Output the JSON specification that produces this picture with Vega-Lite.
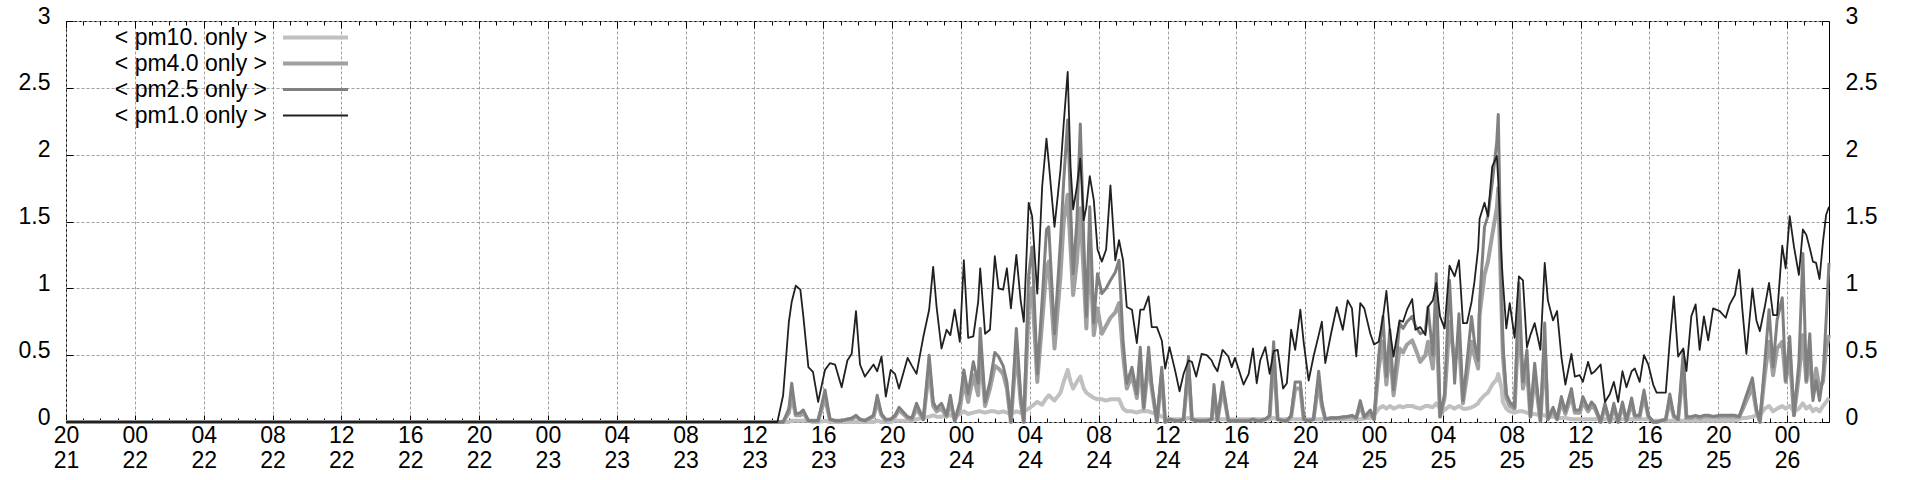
{
"$schema":"https://vega.github.io/schema/vega-lite/v6.json",
"width":1763,"height":401,
"autosize":"none",
"padding":{"left":66,"top":21,"right":91,"bottom":58},
"background":"#ffffff",
"config":{
 "view":{"stroke":"#000000","strokeWidth":1},
 "font":"Liberation Sans",
 "axis":{"labelFont":"Liberation Sans","labelFontSize":23,"labelColor":"#000000","domain":false,"tickColor":"#000000","tickWidth":1,"gridColor":"#a0a0a0","gridDash":[3,2],"gridOpacity":1,"gridWidth":1,"labelFlush":false,"labelOverlap":false}
},
"data":{"values":[
{"t":"2020-01-21T20:00:00Z","pm1":0,"pm25":0,"pm4":0,"pm10":0},
{"t":"2020-01-23T13:20:00Z","pm1":0,"pm25":0,"pm4":0,"pm10":0},
{"t":"2020-01-23T13:40:00Z","pm1":0.2,"pm25":0,"pm4":0,"pm10":0},
{"t":"2020-01-23T14:00:00Z","pm1":0.75,"pm25":0.1,"pm4":0.07,"pm10":0},
{"t":"2020-01-23T14:10:00Z","pm1":0.9,"pm25":0.29,"pm4":0.2,"pm10":0.01},
{"t":"2020-01-23T14:24:00Z","pm1":1.02,"pm25":0.06,"pm4":0.05,"pm10":0.01},
{"t":"2020-01-23T14:40:00Z","pm1":0.99,"pm25":0.07,"pm4":0.05,"pm10":0.01},
{"t":"2020-01-23T14:50:00Z","pm1":0.8,"pm25":0.09,"pm4":0.07,"pm10":0.01},
{"t":"2020-01-23T15:08:00Z","pm1":0.41,"pm25":0.01,"pm4":0.01,"pm10":0.01},
{"t":"2020-01-23T15:24:00Z","pm1":0.375,"pm25":0.01,"pm4":0.01,"pm10":0},
{"t":"2020-01-23T15:42:00Z","pm1":0.15,"pm25":0.01,"pm4":0.01,"pm10":0},
{"t":"2020-01-23T16:06:00Z","pm1":0.39,"pm25":0.24,"pm4":0.18,"pm10":0.01},
{"t":"2020-01-23T16:23:00Z","pm1":0.44,"pm25":0.02,"pm4":0.02,"pm10":0},
{"t":"2020-01-23T16:41:00Z","pm1":0.43,"pm25":0.01,"pm4":0.01,"pm10":0},
{"t":"2020-01-23T17:04:00Z","pm1":0.26,"pm25":0.01,"pm4":0.01,"pm10":0},
{"t":"2020-01-23T17:24:00Z","pm1":0.46,"pm25":0.02,"pm4":0.02,"pm10":0},
{"t":"2020-01-23T17:39:00Z","pm1":0.51,"pm25":0.03,"pm4":0.02,"pm10":0},
{"t":"2020-01-23T17:54:00Z","pm1":0.83,"pm25":0.05,"pm4":0.04,"pm10":0},
{"t":"2020-01-23T18:08:00Z","pm1":0.43,"pm25":0.02,"pm4":0.02,"pm10":0},
{"t":"2020-01-23T18:25:00Z","pm1":0.34,"pm25":0.01,"pm4":0.01,"pm10":0},
{"t":"2020-01-23T18:55:00Z","pm1":0.43,"pm25":0.05,"pm4":0.04,"pm10":0},
{"t":"2020-01-23T19:08:00Z","pm1":0.38,"pm25":0.2,"pm4":0.15,"pm10":0.01},
{"t":"2020-01-23T19:23:00Z","pm1":0.49,"pm25":0.06,"pm4":0.05,"pm10":0},
{"t":"2020-01-23T19:38:00Z","pm1":0.19,"pm25":0.02,"pm4":0.01,"pm10":0},
{"t":"2020-01-23T19:55:00Z","pm1":0.39,"pm25":0.02,"pm4":0.02,"pm10":0},
{"t":"2020-01-23T20:10:00Z","pm1":0.36,"pm25":0.05,"pm4":0.04,"pm10":0.01},
{"t":"2020-01-23T20:24:00Z","pm1":0.25,"pm25":0.11,"pm4":0.09,"pm10":0.01},
{"t":"2020-01-23T20:54:00Z","pm1":0.48,"pm25":0.04,"pm4":0.03,"pm10":0.01},
{"t":"2020-01-23T21:09:00Z","pm1":0.42,"pm25":0.03,"pm4":0.02,"pm10":0.01},
{"t":"2020-01-23T21:25:00Z","pm1":0.36,"pm25":0.14,"pm4":0.1,"pm10":0.02},
{"t":"2020-01-23T21:49:00Z","pm1":0.64,"pm25":0.02,"pm4":0.02,"pm10":0.03},
{"t":"2020-01-23T22:09:00Z","pm1":0.84,"pm25":0.5,"pm4":0.4,"pm10":0.04},
{"t":"2020-01-23T22:23:00Z","pm1":1.16,"pm25":0.15,"pm4":0.12,"pm10":0.05},
{"t":"2020-01-23T22:35:00Z","pm1":0.86,"pm25":0.1,"pm4":0.08,"pm10":0.04},
{"t":"2020-01-23T22:52:00Z","pm1":0.55,"pm25":0.14,"pm4":0.1,"pm10":0.04},
{"t":"2020-01-23T23:10:00Z","pm1":0.69,"pm25":0.05,"pm4":0.04,"pm10":0.05},
{"t":"2020-01-23T23:23:00Z","pm1":0.65,"pm25":0.2,"pm4":0.15,"pm10":0.05},
{"t":"2020-01-23T23:38:00Z","pm1":0.84,"pm25":0.01,"pm4":0.01,"pm10":0.04},
{"t":"2020-01-23T23:56:00Z","pm1":0.6,"pm25":0.15,"pm4":0.1,"pm10":0.06},
{"t":"2020-01-24T00:10:00Z","pm1":1.21,"pm25":0.39,"pm4":0.3,"pm10":0.08},
{"t":"2020-01-24T00:25:00Z","pm1":0.63,"pm25":0.21,"pm4":0.15,"pm10":0.06},
{"t":"2020-01-24T00:43:00Z","pm1":0.64,"pm25":0.45,"pm4":0.35,"pm10":0.07},
{"t":"2020-01-24T01:00:00Z","pm1":0.9,"pm25":0.29,"pm4":0.2,"pm10":0.08},
{"t":"2020-01-24T01:07:00Z","pm1":1.15,"pm25":0.7,"pm4":0.55,"pm10":0.08},
{"t":"2020-01-24T01:24:00Z","pm1":0.66,"pm25":0.15,"pm4":0.12,"pm10":0.07},
{"t":"2020-01-24T01:41:00Z","pm1":0.69,"pm25":0.3,"pm4":0.25,"pm10":0.08},
{"t":"2020-01-24T01:58:00Z","pm1":1.24,"pm25":0.52,"pm4":0.42,"pm10":0.08},
{"t":"2020-01-24T02:11:00Z","pm1":1.0,"pm25":0.49,"pm4":0.4,"pm10":0.07},
{"t":"2020-01-24T02:27:00Z","pm1":0.99,"pm25":0.42,"pm4":0.36,"pm10":0.08},
{"t":"2020-01-24T02:40:00Z","pm1":1.15,"pm25":0.3,"pm4":0.25,"pm10":0.07},
{"t":"2020-01-24T02:54:00Z","pm1":0.85,"pm25":0,"pm4":0,"pm10":0.06},
{"t":"2020-01-24T03:13:00Z","pm1":1.25,"pm25":0.7,"pm4":0.55,"pm10":0.08},
{"t":"2020-01-24T03:28:00Z","pm1":0.91,"pm25":0.2,"pm4":0.15,"pm10":0.07},
{"t":"2020-01-24T03:39:00Z","pm1":0.75,"pm25":0,"pm4":0,"pm10":0.08},
{"t":"2020-01-24T03:56:00Z","pm1":1.64,"pm25":1.1,"pm4":0.85,"pm10":0.1},
{"t":"2020-01-24T04:08:00Z","pm1":1.54,"pm25":1.31,"pm4":1.0,"pm10":0.12},
{"t":"2020-01-24T04:26:00Z","pm1":0.96,"pm25":0.36,"pm4":0.3,"pm10":0.15},
{"t":"2020-01-24T04:43:00Z","pm1":1.76,"pm25":0.91,"pm4":0.75,"pm10":0.13},
{"t":"2020-01-24T04:58:00Z","pm1":2.12,"pm25":1.44,"pm4":1.15,"pm10":0.18},
{"t":"2020-01-24T05:06:00Z","pm1":1.94,"pm25":1.46,"pm4":1.2,"pm10":0.2},
{"t":"2020-01-24T05:26:00Z","pm1":1.46,"pm25":0.66,"pm4":0.55,"pm10":0.16},
{"t":"2020-01-24T05:47:00Z","pm1":1.89,"pm25":1.36,"pm4":1.1,"pm10":0.22},
{"t":"2020-01-24T05:58:00Z","pm1":2.23,"pm25":1.8,"pm4":1.5,"pm10":0.3},
{"t":"2020-01-24T06:12:00Z","pm1":2.62,"pm25":2.26,"pm4":1.7,"pm10":0.39},
{"t":"2020-01-24T06:22:00Z","pm1":1.91,"pm25":1.61,"pm4":1.3,"pm10":0.3},
{"t":"2020-01-24T06:31:00Z","pm1":1.59,"pm25":1.11,"pm4":0.95,"pm10":0.25},
{"t":"2020-01-24T06:44:00Z","pm1":1.76,"pm25":1.5,"pm4":1.2,"pm10":0.3},
{"t":"2020-01-24T06:56:00Z","pm1":1.97,"pm25":2.23,"pm4":1.6,"pm10":0.34},
{"t":"2020-01-24T07:08:00Z","pm1":1.51,"pm25":1.36,"pm4":1.1,"pm10":0.25},
{"t":"2020-01-24T07:17:00Z","pm1":1.61,"pm25":0.79,"pm4":0.7,"pm10":0.22},
{"t":"2020-01-24T07:29:00Z","pm1":1.84,"pm25":1.61,"pm4":1.3,"pm10":0.2},
{"t":"2020-01-24T07:43:00Z","pm1":1.66,"pm25":0.74,"pm4":0.65,"pm10":0.18},
{"t":"2020-01-24T07:56:00Z","pm1":1.29,"pm25":1.11,"pm4":0.85,"pm10":0.17},
{"t":"2020-01-24T08:11:00Z","pm1":1.2,"pm25":0.96,"pm4":0.66,"pm10":0.17},
{"t":"2020-01-24T08:26:00Z","pm1":1.29,"pm25":1.0,"pm4":0.72,"pm10":0.16},
{"t":"2020-01-24T08:41:00Z","pm1":1.77,"pm25":1.06,"pm4":0.78,"pm10":0.17},
{"t":"2020-01-24T08:58:00Z","pm1":1.21,"pm25":1.12,"pm4":0.82,"pm10":0.17},
{"t":"2020-01-24T09:11:00Z","pm1":1.36,"pm25":1.21,"pm4":0.89,"pm10":0.17},
{"t":"2020-01-24T09:25:00Z","pm1":1.21,"pm25":0.61,"pm4":0.5,"pm10":0.1},
{"t":"2020-01-24T09:38:00Z","pm1":0.86,"pm25":0.29,"pm4":0.25,"pm10":0.08},
{"t":"2020-01-24T09:56:00Z","pm1":0.84,"pm25":0.41,"pm4":0.35,"pm10":0.08},
{"t":"2020-01-24T10:13:00Z","pm1":0.59,"pm25":0.21,"pm4":0.18,"pm10":0.07},
{"t":"2020-01-24T10:25:00Z","pm1":0.84,"pm25":0.56,"pm4":0.45,"pm10":0.08},
{"t":"2020-01-24T10:37:00Z","pm1":0.84,"pm25":0.11,"pm4":0.1,"pm10":0.08},
{"t":"2020-01-24T10:54:00Z","pm1":0.94,"pm25":0.56,"pm4":0.45,"pm10":0.08},
{"t":"2020-01-24T11:05:00Z","pm1":0.71,"pm25":0.29,"pm4":0.25,"pm10":0.07},
{"t":"2020-01-24T11:23:00Z","pm1":0.71,"pm25":0,"pm4":0,"pm10":0.06},
{"t":"2020-01-24T11:40:00Z","pm1":0.61,"pm25":0.41,"pm4":0.35,"pm10":0.04},
{"t":"2020-01-24T11:52:00Z","pm1":0.4,"pm25":0,"pm4":0,"pm10":0.03},
{"t":"2020-01-24T12:07:00Z","pm1":0.56,"pm25":0.02,"pm4":0.02,"pm10":0.02},
{"t":"2020-01-24T12:26:00Z","pm1":0.39,"pm25":0.01,"pm4":0.01,"pm10":0.02},
{"t":"2020-01-24T12:42:00Z","pm1":0.23,"pm25":0.01,"pm4":0.01,"pm10":0.02},
{"t":"2020-01-24T12:56:00Z","pm1":0.36,"pm25":0.02,"pm4":0.02,"pm10":0.02},
{"t":"2020-01-24T13:13:00Z","pm1":0.46,"pm25":0.49,"pm4":0.4,"pm10":0.03},
{"t":"2020-01-24T13:25:00Z","pm1":0.45,"pm25":0.02,"pm4":0.02,"pm10":0.02},
{"t":"2020-01-24T13:40:00Z","pm1":0.34,"pm25":0.01,"pm4":0.01,"pm10":0.02},
{"t":"2020-01-24T13:59:00Z","pm1":0.51,"pm25":0.01,"pm4":0.01,"pm10":0.02},
{"t":"2020-01-24T14:17:00Z","pm1":0.5,"pm25":0.01,"pm4":0.01,"pm10":0.02},
{"t":"2020-01-24T14:34:00Z","pm1":0.46,"pm25":0.02,"pm4":0.02,"pm10":0.02},
{"t":"2020-01-24T14:42:00Z","pm1":0.42,"pm25":0.28,"pm4":0.22,"pm10":0.02},
{"t":"2020-01-24T14:54:00Z","pm1":0.38,"pm25":0.01,"pm4":0.01,"pm10":0.02},
{"t":"2020-01-24T15:12:00Z","pm1":0.54,"pm25":0.3,"pm4":0.25,"pm10":0.02},
{"t":"2020-01-24T15:32:00Z","pm1":0.49,"pm25":0.01,"pm4":0.01,"pm10":0.02},
{"t":"2020-01-24T15:44:00Z","pm1":0.41,"pm25":0.01,"pm4":0.01,"pm10":0.02},
{"t":"2020-01-24T15:55:00Z","pm1":0.48,"pm25":0.01,"pm4":0.01,"pm10":0.02},
{"t":"2020-01-24T16:25:00Z","pm1":0.28,"pm25":0.01,"pm4":0.01,"pm10":0.02},
{"t":"2020-01-24T16:43:00Z","pm1":0.36,"pm25":0.01,"pm4":0.01,"pm10":0.02},
{"t":"2020-01-24T16:58:00Z","pm1":0.55,"pm25":0.02,"pm4":0.02,"pm10":0.02},
{"t":"2020-01-24T17:11:00Z","pm1":0.29,"pm25":0.01,"pm4":0.01,"pm10":0.02},
{"t":"2020-01-24T17:23:00Z","pm1":0.46,"pm25":0.01,"pm4":0.01,"pm10":0.02},
{"t":"2020-01-24T17:41:00Z","pm1":0.56,"pm25":0.02,"pm4":0.02,"pm10":0.02},
{"t":"2020-01-24T17:56:00Z","pm1":0.36,"pm25":0.05,"pm4":0.04,"pm10":0.02},
{"t":"2020-01-24T18:10:00Z","pm1":0.53,"pm25":0.6,"pm4":0.5,"pm10":0.03},
{"t":"2020-01-24T18:24:00Z","pm1":0.54,"pm25":0.02,"pm4":0.02,"pm10":0.02},
{"t":"2020-01-24T18:43:00Z","pm1":0.25,"pm25":0.01,"pm4":0.01,"pm10":0.02},
{"t":"2020-01-24T18:56:00Z","pm1":0.29,"pm25":0.01,"pm4":0.01,"pm10":0.02},
{"t":"2020-01-24T19:11:00Z","pm1":0.69,"pm25":0.05,"pm4":0.04,"pm10":0.02},
{"t":"2020-01-24T19:25:00Z","pm1":0.54,"pm25":0.3,"pm4":0.25,"pm10":0.02},
{"t":"2020-01-24T19:43:00Z","pm1":0.84,"pm25":0.3,"pm4":0.25,"pm10":0.02},
{"t":"2020-01-24T19:55:00Z","pm1":0.59,"pm25":0.02,"pm4":0.02,"pm10":0.02},
{"t":"2020-01-24T20:12:00Z","pm1":0.31,"pm25":0.01,"pm4":0.01,"pm10":0.02},
{"t":"2020-01-24T20:29:00Z","pm1":0.49,"pm25":0.02,"pm4":0.02,"pm10":0.02},
{"t":"2020-01-24T20:47:00Z","pm1":0.65,"pm25":0.38,"pm4":0.3,"pm10":0.02},
{"t":"2020-01-24T20:58:00Z","pm1":0.75,"pm25":0.15,"pm4":0.12,"pm10":0.02},
{"t":"2020-01-24T21:10:00Z","pm1":0.44,"pm25":0.02,"pm4":0.02,"pm10":0.02},
{"t":"2020-01-24T21:30:00Z","pm1":0.66,"pm25":0.03,"pm4":0.03,"pm10":0.02},
{"t":"2020-01-24T21:50:00Z","pm1":0.86,"pm25":0.03,"pm4":0.03,"pm10":0.02},
{"t":"2020-01-24T22:11:00Z","pm1":0.69,"pm25":0.04,"pm4":0.03,"pm10":0.02},
{"t":"2020-01-24T22:28:00Z","pm1":0.91,"pm25":0.04,"pm4":0.04,"pm10":0.02},
{"t":"2020-01-24T22:43:00Z","pm1":0.85,"pm25":0.05,"pm4":0.04,"pm10":0.02},
{"t":"2020-01-24T22:58:00Z","pm1":0.49,"pm25":0.03,"pm4":0.03,"pm10":0.02},
{"t":"2020-01-24T23:12:00Z","pm1":0.89,"pm25":0.16,"pm4":0.13,"pm10":0.02},
{"t":"2020-01-24T23:26:00Z","pm1":0.85,"pm25":0.04,"pm4":0.03,"pm10":0.03},
{"t":"2020-01-24T23:47:00Z","pm1":0.66,"pm25":0.09,"pm4":0.07,"pm10":0.03},
{"t":"2020-01-25T00:00:00Z","pm1":0.58,"pm25":0.02,"pm4":0.02,"pm10":0.05},
{"t":"2020-01-25T00:16:00Z","pm1":0.6,"pm25":0.49,"pm4":0.4,"pm10":0.1},
{"t":"2020-01-25T00:31:00Z","pm1":0.78,"pm25":0.79,"pm4":0.6,"pm10":0.12},
{"t":"2020-01-25T00:43:00Z","pm1":0.98,"pm25":0.34,"pm4":0.28,"pm10":0.1},
{"t":"2020-01-25T00:55:00Z","pm1":0.69,"pm25":0.69,"pm4":0.55,"pm10":0.12},
{"t":"2020-01-25T01:08:00Z","pm1":0.49,"pm25":0.24,"pm4":0.2,"pm10":0.1},
{"t":"2020-01-25T01:29:00Z","pm1":0.76,"pm25":0.74,"pm4":0.55,"pm10":0.12},
{"t":"2020-01-25T01:41:00Z","pm1":0.75,"pm25":0.7,"pm4":0.52,"pm10":0.11},
{"t":"2020-01-25T01:55:00Z","pm1":0.84,"pm25":0.75,"pm4":0.58,"pm10":0.12},
{"t":"2020-01-25T02:13:00Z","pm1":0.92,"pm25":0.79,"pm4":0.61,"pm10":0.12},
{"t":"2020-01-25T02:24:00Z","pm1":0.69,"pm25":0.72,"pm4":0.55,"pm10":0.11},
{"t":"2020-01-25T02:41:00Z","pm1":0.71,"pm25":0.66,"pm4":0.45,"pm10":0.1},
{"t":"2020-01-25T02:59:00Z","pm1":0.65,"pm25":0.68,"pm4":0.5,"pm10":0.12},
{"t":"2020-01-25T03:08:00Z","pm1":0.86,"pm25":0.86,"pm4":0.6,"pm10":0.12},
{"t":"2020-01-25T03:25:00Z","pm1":0.91,"pm25":0.5,"pm4":0.4,"pm10":0.11},
{"t":"2020-01-25T03:37:00Z","pm1":1.04,"pm25":1.11,"pm4":0.8,"pm10":0.14},
{"t":"2020-01-25T03:50:00Z","pm1":0.79,"pm25":0.04,"pm4":0.04,"pm10":0.1},
{"t":"2020-01-25T04:06:00Z","pm1":0.7,"pm25":0.21,"pm4":0.18,"pm10":0.09},
{"t":"2020-01-25T04:23:00Z","pm1":1.17,"pm25":1.06,"pm4":0.75,"pm10":0.12},
{"t":"2020-01-25T04:41:00Z","pm1":1.09,"pm25":0.29,"pm4":0.45,"pm10":0.1},
{"t":"2020-01-25T04:56:00Z","pm1":1.21,"pm25":0.81,"pm4":0.6,"pm10":0.12},
{"t":"2020-01-25T05:10:00Z","pm1":0.74,"pm25":0.16,"pm4":0.14,"pm10":0.1},
{"t":"2020-01-25T05:24:00Z","pm1":0.74,"pm25":0.45,"pm4":0.35,"pm10":0.1},
{"t":"2020-01-25T05:40:00Z","pm1":0.9,"pm25":0.79,"pm4":0.6,"pm10":0.11},
{"t":"2020-01-25T05:50:00Z","pm1":1.05,"pm25":0.6,"pm4":0.5,"pm10":0.12},
{"t":"2020-01-25T06:03:00Z","pm1":1.3,"pm25":0.46,"pm4":0.4,"pm10":0.14},
{"t":"2020-01-25T06:08:00Z","pm1":1.52,"pm25":0.9,"pm4":0.8,"pm10":0.16},
{"t":"2020-01-25T06:25:00Z","pm1":1.64,"pm25":1.46,"pm4":1.1,"pm10":0.2},
{"t":"2020-01-25T06:37:00Z","pm1":1.54,"pm25":1.54,"pm4":1.2,"pm10":0.22},
{"t":"2020-01-25T06:52:00Z","pm1":1.91,"pm25":1.79,"pm4":1.4,"pm10":0.28},
{"t":"2020-01-25T07:08:00Z","pm1":1.99,"pm25":2.1,"pm4":1.6,"pm10":0.32},
{"t":"2020-01-25T07:13:00Z","pm1":1.8,"pm25":2.3,"pm4":1.75,"pm10":0.36},
{"t":"2020-01-25T07:25:00Z","pm1":1.2,"pm25":0.91,"pm4":0.8,"pm10":0.25},
{"t":"2020-01-25T07:29:00Z","pm1":1.06,"pm25":0.6,"pm4":0.5,"pm10":0.15},
{"t":"2020-01-25T07:41:00Z","pm1":0.7,"pm25":0.21,"pm4":0.18,"pm10":0.1},
{"t":"2020-01-25T07:53:00Z","pm1":0.89,"pm25":0.15,"pm4":0.12,"pm10":0.08},
{"t":"2020-01-25T08:10:00Z","pm1":0.63,"pm25":0.11,"pm4":0.1,"pm10":0.07},
{"t":"2020-01-25T08:25:00Z","pm1":1.09,"pm25":1.04,"pm4":0.8,"pm10":0.08},
{"t":"2020-01-25T08:39:00Z","pm1":1.06,"pm25":0.3,"pm4":0.25,"pm10":0.08},
{"t":"2020-01-25T08:53:00Z","pm1":0.56,"pm25":0.54,"pm4":0.4,"pm10":0.07},
{"t":"2020-01-25T09:05:00Z","pm1":0.65,"pm25":0.04,"pm4":0.04,"pm10":0.06},
{"t":"2020-01-25T09:20:00Z","pm1":0.74,"pm25":0.44,"pm4":0.35,"pm10":0.06},
{"t":"2020-01-25T09:40:00Z","pm1":0.54,"pm25":0.01,"pm4":0.01,"pm10":0.05},
{"t":"2020-01-25T09:55:00Z","pm1":1.19,"pm25":0.74,"pm4":0.55,"pm10":0.05},
{"t":"2020-01-25T10:06:00Z","pm1":0.91,"pm25":0.02,"pm4":0.02,"pm10":0.04},
{"t":"2020-01-25T10:24:00Z","pm1":0.76,"pm25":0.11,"pm4":0.09,"pm10":0.04},
{"t":"2020-01-25T10:38:00Z","pm1":0.83,"pm25":0.02,"pm4":0.02,"pm10":0.03},
{"t":"2020-01-25T10:53:00Z","pm1":0.49,"pm25":0.19,"pm4":0.15,"pm10":0.03},
{"t":"2020-01-25T11:07:00Z","pm1":0.28,"pm25":0.08,"pm4":0.06,"pm10":0.03},
{"t":"2020-01-25T11:28:00Z","pm1":0.51,"pm25":0.25,"pm4":0.2,"pm10":0.02},
{"t":"2020-01-25T11:40:00Z","pm1":0.34,"pm25":0.09,"pm4":0.07,"pm10":0.02},
{"t":"2020-01-25T11:57:00Z","pm1":0.35,"pm25":0.09,"pm4":0.07,"pm10":0.02},
{"t":"2020-01-25T12:08:00Z","pm1":0.3,"pm25":0.19,"pm4":0.15,"pm10":0.02},
{"t":"2020-01-25T12:26:00Z","pm1":0.45,"pm25":0.1,"pm4":0.08,"pm10":0.02},
{"t":"2020-01-25T12:38:00Z","pm1":0.36,"pm25":0.15,"pm4":0.12,"pm10":0.02},
{"t":"2020-01-25T12:50:00Z","pm1":0.38,"pm25":0.12,"pm4":0.1,"pm10":0.02},
{"t":"2020-01-25T13:10:00Z","pm1":0.43,"pm25":0,"pm4":0,"pm10":0.02},
{"t":"2020-01-25T13:25:00Z","pm1":0.15,"pm25":0.14,"pm4":0.11,"pm10":0.02},
{"t":"2020-01-25T13:42:00Z","pm1":0.21,"pm25":0,"pm4":0,"pm10":0.02},
{"t":"2020-01-25T13:56:00Z","pm1":0.3,"pm25":0.14,"pm4":0.11,"pm10":0.02},
{"t":"2020-01-25T14:11:00Z","pm1":0.15,"pm25":0,"pm4":0,"pm10":0.02},
{"t":"2020-01-25T14:26:00Z","pm1":0.38,"pm25":0.15,"pm4":0.12,"pm10":0.02},
{"t":"2020-01-25T14:40:00Z","pm1":0.26,"pm25":0.01,"pm4":0.01,"pm10":0.02},
{"t":"2020-01-25T14:58:00Z","pm1":0.38,"pm25":0.18,"pm4":0.14,"pm10":0.02},
{"t":"2020-01-25T15:09:00Z","pm1":0.4,"pm25":0.05,"pm4":0.04,"pm10":0.02},
{"t":"2020-01-25T15:26:00Z","pm1":0.3,"pm25":0.05,"pm4":0.04,"pm10":0.02},
{"t":"2020-01-25T15:41:00Z","pm1":0.5,"pm25":0.24,"pm4":0.2,"pm10":0.02},
{"t":"2020-01-25T15:56:00Z","pm1":0.43,"pm25":0.05,"pm4":0.04,"pm10":0.02},
{"t":"2020-01-25T16:13:00Z","pm1":0.28,"pm25":0,"pm4":0,"pm10":0.01},
{"t":"2020-01-25T16:25:00Z","pm1":0.22,"pm25":0,"pm4":0,"pm10":0.01},
{"t":"2020-01-25T16:57:00Z","pm1":0.22,"pm25":0.02,"pm4":0.02,"pm10":0.01},
{"t":"2020-01-25T17:11:00Z","pm1":0.61,"pm25":0.21,"pm4":0.16,"pm10":0.01},
{"t":"2020-01-25T17:25:00Z","pm1":0.94,"pm25":0.05,"pm4":0.04,"pm10":0.01},
{"t":"2020-01-25T17:40:00Z","pm1":0.49,"pm25":0.02,"pm4":0.02,"pm10":0.01},
{"t":"2020-01-25T17:58:00Z","pm1":0.55,"pm25":0.53,"pm4":0.4,"pm10":0.01},
{"t":"2020-01-25T18:09:00Z","pm1":0.38,"pm25":0.04,"pm4":0.03,"pm10":0.01},
{"t":"2020-01-25T18:26:00Z","pm1":0.79,"pm25":0.04,"pm4":0.03,"pm10":0.01},
{"t":"2020-01-25T18:41:00Z","pm1":0.88,"pm25":0.05,"pm4":0.04,"pm10":0.01},
{"t":"2020-01-25T18:55:00Z","pm1":0.54,"pm25":0.04,"pm4":0.03,"pm10":0.01},
{"t":"2020-01-25T19:10:00Z","pm1":0.79,"pm25":0.05,"pm4":0.04,"pm10":0.01},
{"t":"2020-01-25T19:25:00Z","pm1":0.61,"pm25":0.05,"pm4":0.04,"pm10":0.01},
{"t":"2020-01-25T19:42:00Z","pm1":0.85,"pm25":0.04,"pm4":0.04,"pm10":0.01},
{"t":"2020-01-25T20:05:00Z","pm1":0.83,"pm25":0.05,"pm4":0.04,"pm10":0.01},
{"t":"2020-01-25T20:26:00Z","pm1":0.78,"pm25":0.05,"pm4":0.04,"pm10":0.01},
{"t":"2020-01-25T20:40:00Z","pm1":0.88,"pm25":0.05,"pm4":0.04,"pm10":0.01},
{"t":"2020-01-25T20:58:00Z","pm1":0.95,"pm25":0.05,"pm4":0.04,"pm10":0.01},
{"t":"2020-01-25T21:13:00Z","pm1":1.14,"pm25":0.04,"pm4":0.04,"pm10":0.02},
{"t":"2020-01-25T21:24:00Z","pm1":0.84,"pm25":0.11,"pm4":0.09,"pm10":0.03},
{"t":"2020-01-25T21:38:00Z","pm1":0.51,"pm25":0.2,"pm4":0.16,"pm10":0.03},
{"t":"2020-01-25T21:59:00Z","pm1":1.0,"pm25":0.33,"pm4":0.26,"pm10":0.04},
{"t":"2020-01-25T22:13:00Z","pm1":0.76,"pm25":0.1,"pm4":0.08,"pm10":0.05},
{"t":"2020-01-25T22:25:00Z","pm1":0.68,"pm25":0,"pm4":0,"pm10":0.05},
{"t":"2020-01-25T22:42:00Z","pm1":0.86,"pm25":0.44,"pm4":0.35,"pm10":0.1},
{"t":"2020-01-25T22:57:00Z","pm1":1.04,"pm25":0.84,"pm4":0.6,"pm10":0.12},
{"t":"2020-01-25T23:11:00Z","pm1":0.8,"pm25":0.41,"pm4":0.35,"pm10":0.08},
{"t":"2020-01-25T23:25:00Z","pm1":0.8,"pm25":0.76,"pm4":0.55,"pm10":0.1},
{"t":"2020-01-25T23:43:00Z","pm1":1.32,"pm25":0.93,"pm4":0.6,"pm10":0.12},
{"t":"2020-01-25T23:55:00Z","pm1":1.15,"pm25":0.31,"pm4":0.3,"pm10":0.1},
{"t":"2020-01-26T00:09:00Z","pm1":1.54,"pm25":0.64,"pm4":0.5,"pm10":0.12},
{"t":"2020-01-26T00:24:00Z","pm1":1.31,"pm25":0.05,"pm4":0.05,"pm10":0.08},
{"t":"2020-01-26T00:41:00Z","pm1":1.1,"pm25":0.44,"pm4":0.35,"pm10":0.1},
{"t":"2020-01-26T00:55:00Z","pm1":1.44,"pm25":1.26,"pm4":0.65,"pm10":0.14},
{"t":"2020-01-26T01:07:00Z","pm1":1.4,"pm25":0.31,"pm4":0.3,"pm10":0.1},
{"t":"2020-01-26T01:19:00Z","pm1":1.3,"pm25":0.66,"pm4":0.5,"pm10":0.12},
{"t":"2020-01-26T01:30:00Z","pm1":1.2,"pm25":0.16,"pm4":0.2,"pm10":0.08},
{"t":"2020-01-26T01:41:00Z","pm1":1.19,"pm25":0.31,"pm4":0.4,"pm10":0.1},
{"t":"2020-01-26T01:53:00Z","pm1":1.07,"pm25":0.16,"pm4":0.25,"pm10":0.08},
{"t":"2020-01-26T02:05:00Z","pm1":1.35,"pm25":0.34,"pm4":0.3,"pm10":0.12},
{"t":"2020-01-26T02:16:00Z","pm1":1.55,"pm25":0.76,"pm4":0.55,"pm10":0.15},
{"t":"2020-01-26T02:26:00Z","pm1":1.61,"pm25":1.19,"pm4":0.65,"pm10":0.18}
]},
"transform":[{"fold":["pm10","pm4","pm25","pm1"],"as":["series","value"]}],
"encoding":{
 "x":{"field":"t","type":"temporal","scale":{"type":"utc","domain":[{"year":2020,"month":1,"date":21,"hours":20,"utc":true},{"year":2020,"month":1,"date":26,"hours":2,"minutes":26,"utc":true}]}},
 "y":{"field":"value","type":"quantitative","scale":{"domain":[0,3],"nice":false}},
 "color":{"field":"series","type":"nominal","scale":{"domain":["pm10","pm4","pm25","pm1"],"range":["#c0c0c0","#a0a0a0","#808080","#202020"]},
  "legend":{"orient":"none","legendX":238,"legendY":5,"title":null,"symbolType":"M-5,0H5","symbolSize":169,"symbolStrokeWidth":3,"labelAlign":"right","labelOffset":-60,"labelFontSize":23,"labelFont":"Liberation Sans","labelColor":"#000000","labelLimit":400,"rowPadding":2,"padding":0,
   "labelExpr":"datum.label == 'pm10' ? '< pm10. only >' : datum.label == 'pm4' ? '< pm4.0 only >' : datum.label == 'pm25' ? '< pm2.5 only >' : '< pm1.0 only >'",
   "encode":{"symbols":{"update":{"strokeWidth":{"signal":"datum.value == 'pm1' ? 2 : datum.value == 'pm25' ? 3 : 4"}}}}}}
},
"layer":[
 {"transform":[{"filter":"datum.series === 'pm10'"}],
  "mark":{"type":"line","strokeWidth":4,"strokeJoin":"round"},
  "encoding":{
   "x":{"field":"t","type":"temporal","axis":{"orient":"bottom","title":null,"grid":true,"ticks":true,"tickSize":-7,"labels":true,
     "values":[{"year":2020,"month":1,"date":21,"hours":20,"utc":true},{"year":2020,"month":1,"date":22,"hours":0,"utc":true},{"year":2020,"month":1,"date":22,"hours":4,"utc":true},{"year":2020,"month":1,"date":22,"hours":8,"utc":true},{"year":2020,"month":1,"date":22,"hours":12,"utc":true},{"year":2020,"month":1,"date":22,"hours":16,"utc":true},{"year":2020,"month":1,"date":22,"hours":20,"utc":true},{"year":2020,"month":1,"date":23,"hours":0,"utc":true},{"year":2020,"month":1,"date":23,"hours":4,"utc":true},{"year":2020,"month":1,"date":23,"hours":8,"utc":true},{"year":2020,"month":1,"date":23,"hours":12,"utc":true},{"year":2020,"month":1,"date":23,"hours":16,"utc":true},{"year":2020,"month":1,"date":23,"hours":20,"utc":true},{"year":2020,"month":1,"date":24,"hours":0,"utc":true},{"year":2020,"month":1,"date":24,"hours":4,"utc":true},{"year":2020,"month":1,"date":24,"hours":8,"utc":true},{"year":2020,"month":1,"date":24,"hours":12,"utc":true},{"year":2020,"month":1,"date":24,"hours":16,"utc":true},{"year":2020,"month":1,"date":24,"hours":20,"utc":true},{"year":2020,"month":1,"date":25,"hours":0,"utc":true},{"year":2020,"month":1,"date":25,"hours":4,"utc":true},{"year":2020,"month":1,"date":25,"hours":8,"utc":true},{"year":2020,"month":1,"date":25,"hours":12,"utc":true},{"year":2020,"month":1,"date":25,"hours":16,"utc":true},{"year":2020,"month":1,"date":25,"hours":20,"utc":true},{"year":2020,"month":1,"date":26,"hours":0,"utc":true}],
     "labelExpr":"[utcFormat(datum.value,'%H'), utcFormat(datum.value,'%d')]","labelAngle":0,"labelAlign":"center","labelBaseline":"top","labelPadding":9,"labelLineHeight":25}},
   "y":{"field":"value","type":"quantitative","axis":{"orient":"left","title":null,"values":[0,0.5,1,1.5,2,2.5,3],"format":"~g","grid":true,"ticks":true,"tickSize":-7,"labelPadding":23,"labelOffset":-5}}
  }},
 {"transform":[{"filter":"datum.series === 'pm4'"}],
  "mark":{"type":"line","strokeWidth":4,"strokeJoin":"round"},
  "encoding":{
   "x":{"field":"t","type":"temporal","axis":{"orient":"top","title":null,"grid":false,"ticks":true,"tickSize":-7,"labels":false,
     "values":[{"year":2020,"month":1,"date":21,"hours":20,"utc":true},{"year":2020,"month":1,"date":22,"hours":0,"utc":true},{"year":2020,"month":1,"date":22,"hours":4,"utc":true},{"year":2020,"month":1,"date":22,"hours":8,"utc":true},{"year":2020,"month":1,"date":22,"hours":12,"utc":true},{"year":2020,"month":1,"date":22,"hours":16,"utc":true},{"year":2020,"month":1,"date":22,"hours":20,"utc":true},{"year":2020,"month":1,"date":23,"hours":0,"utc":true},{"year":2020,"month":1,"date":23,"hours":4,"utc":true},{"year":2020,"month":1,"date":23,"hours":8,"utc":true},{"year":2020,"month":1,"date":23,"hours":12,"utc":true},{"year":2020,"month":1,"date":23,"hours":16,"utc":true},{"year":2020,"month":1,"date":23,"hours":20,"utc":true},{"year":2020,"month":1,"date":24,"hours":0,"utc":true},{"year":2020,"month":1,"date":24,"hours":4,"utc":true},{"year":2020,"month":1,"date":24,"hours":8,"utc":true},{"year":2020,"month":1,"date":24,"hours":12,"utc":true},{"year":2020,"month":1,"date":24,"hours":16,"utc":true},{"year":2020,"month":1,"date":24,"hours":20,"utc":true},{"year":2020,"month":1,"date":25,"hours":0,"utc":true},{"year":2020,"month":1,"date":25,"hours":4,"utc":true},{"year":2020,"month":1,"date":25,"hours":8,"utc":true},{"year":2020,"month":1,"date":25,"hours":12,"utc":true},{"year":2020,"month":1,"date":25,"hours":16,"utc":true},{"year":2020,"month":1,"date":25,"hours":20,"utc":true},{"year":2020,"month":1,"date":26,"hours":0,"utc":true}]}},
   "y":{"field":"value","type":"quantitative","axis":null}
  }},
 {"transform":[{"filter":"datum.series === 'pm25'"}],
  "mark":{"type":"line","strokeWidth":3,"strokeJoin":"round"},
  "encoding":{
   "x":{"field":"t","type":"temporal","axis":{"orient":"bottom","title":null,"grid":false,"ticks":true,"tickSize":-4,"labels":false,"tickCount":102}},
   "y":{"field":"value","type":"quantitative","axis":null}
  }},
 {"transform":[{"filter":"datum.series === 'pm1'"}],
  "mark":{"type":"line","strokeWidth":1.8,"strokeJoin":"round"},
  "encoding":{
   "x":{"field":"t","type":"temporal","axis":{"orient":"top","title":null,"grid":false,"ticks":true,"tickSize":-4,"labels":false,"tickCount":102}},
   "y":{"field":"value","type":"quantitative","axis":{"orient":"right","title":null,"values":[0,0.5,1,1.5,2,2.5,3],"format":"~g","grid":false,"ticks":true,"tickSize":-7,"labelPadding":23,"labelOffset":-5}}
  }}
],
"resolve":{"axis":{"x":"independent","y":"independent"}}
}
